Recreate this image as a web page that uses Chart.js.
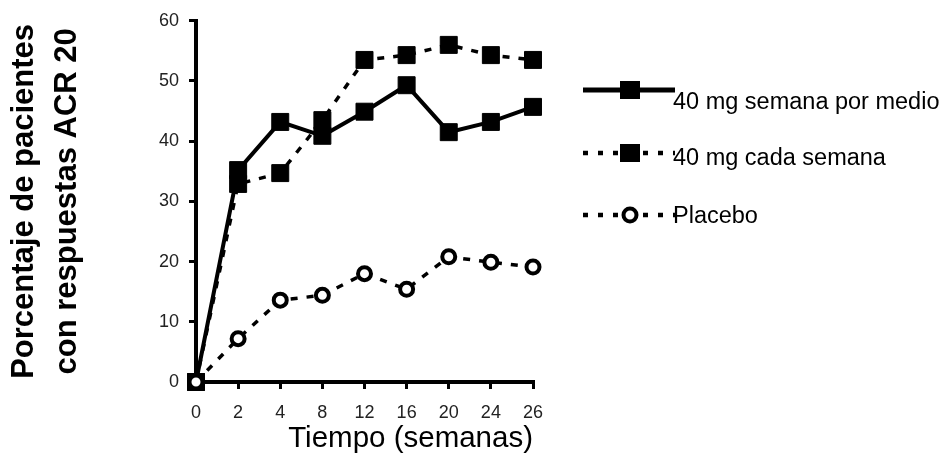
<!DOCTYPE html>
<html>
<head>
<meta charset="utf-8">
<script src="https://cdn.jsdelivr.net/npm/chart.js@4/dist/chart.umd.min.js"></script>
<style>
  html, body { margin: 0; padding: 0; background: #fff; }
  #wrap { width: 949px; height: 457px; position: relative; }
</style>
</head>
<body>
<div id="wrap"><canvas id="c"></canvas></div>
<script>
const weeks = ['0', '2', '4', '8', '12', '16', '20', '24', '26'];
const everyOtherWeek = [0, 35.2, 43.2, 40.9, 44.9, 49.3, 41.5, 43.2, 45.7];
const everyWeek = [0, 32.9, 34.7, 43.5, 53.5, 54.3, 56.0, 54.3, 53.5];
const placebo = [0, 7.2, 13.6, 14.4, 18.0, 15.4, 20.8, 19.9, 19.1];
const seriesNames = ['40 mg semana por medio', '40 mg cada semana', 'Placebo'];
const yTicks = [0, 10, 20, 30, 40, 50, 60];
const yTitle = ['Porcentaje de pacientes', 'con respuestas ACR 20'];
const xTitle = 'Tiempo (semanas)';

const FONT = '"Liberation Sans", Arial, Helvetica, sans-serif';

const legendPlugin = {
  id: 'sideLegend',
  afterDraw(chart) {
    const ctx = chart.ctx;
    const rows = [
      { lineY: 90, textY: 109 },
      { lineY: 153, textY: 165 },
      { lineY: 215, textY: 223 }
    ];
    const x0 = 583, x1 = 675, mx = 630;
    chart.data.datasets.forEach((ds, i) => {
      const r = rows[i];
      ctx.save();
      ctx.strokeStyle = '#000';
      ctx.lineWidth = i === 0 ? 5 : 4.5;
      ctx.setLineDash(i === 0 ? [] : [5, 10]);
      ctx.beginPath();
      ctx.moveTo(x0, r.lineY);
      ctx.lineTo(x1, r.lineY);
      ctx.stroke();
      ctx.setLineDash([]);
      if (ds.pointStyle === 'rect') {
        ctx.fillStyle = '#000';
        ctx.fillRect(mx - 10, r.lineY - 9, 20, 18);
      } else {
        ctx.beginPath();
        ctx.arc(mx, r.lineY, 6.5, 0, Math.PI * 2);
        ctx.fillStyle = '#fff';
        ctx.fill();
        ctx.lineWidth = 4;
        ctx.strokeStyle = '#000';
        ctx.stroke();
      }
      ctx.fillStyle = '#000';
      ctx.font = '23.5px ' + FONT;
      ctx.textAlign = 'left';
      ctx.textBaseline = 'alphabetic';
      ctx.fillText(ds.label, 673, r.textY);
      ctx.restore();
    });
  }
};

new Chart(document.getElementById('c'), {
  type: 'line',
  data: {
    labels: weeks,
    datasets: [
      {
        label: seriesNames[0],
        data: everyOtherWeek,
        borderColor: '#000',
        backgroundColor: '#000',
        borderWidth: 4,
        pointStyle: 'rect',
        pointRadius: 12,
        pointBorderWidth: 1,
        pointBackgroundColor: '#000',
        pointBorderColor: '#000',
        tension: 0,
        clip: false,
        order: 2
      },
      {
        label: seriesNames[1],
        data: everyWeek,
        borderColor: '#000',
        backgroundColor: '#000',
        borderWidth: 3.5,
        borderDash: [7, 9],
        pointStyle: 'rect',
        pointRadius: 12,
        pointBorderWidth: 1,
        pointBackgroundColor: '#000',
        pointBorderColor: '#000',
        tension: 0,
        clip: false,
        order: 1
      },
      {
        label: seriesNames[2],
        data: placebo,
        borderColor: '#000',
        backgroundColor: '#fff',
        borderWidth: 3.5,
        borderDash: [7, 9],
        pointStyle: 'circle',
        pointRadius: 6.5,
        pointBorderWidth: 4,
        pointBackgroundColor: '#fff',
        pointBorderColor: '#000',
        tension: 0,
        clip: false,
        order: 0
      }
    ]
  },
  options: {
    responsive: true,
    maintainAspectRatio: false,
    animation: false,
    layout: { padding: { top: 20, right: 416, left: 0, bottom: 0 } },
    plugins: {
      legend: { display: false },
      tooltip: { enabled: false }
    },
    scales: {
      x: {
        type: 'category',
        offset: false,
        grid: { display: true, drawOnChartArea: false, drawTicks: true, tickLength: 7, color: '#000', lineWidth: 3 },
        border: { display: true, color: '#000', width: 4 },
        ticks: { color: '#222', font: { family: FONT, size: 18 }, padding: 13, maxRotation: 0, autoSkip: false },
        title: { display: true, text: xTitle, align: 'end', color: '#000', font: { family: FONT, size: 29.5 }, padding: { top: 0, bottom: 0 } },
        afterFit(scale) { scale.height = 75; }
      },
      y: {
        min: 0,
        max: 60,
        afterBuildTicks(scale) { scale.ticks = yTicks.map(v => ({ value: v })); },
        grid: { display: true, drawOnChartArea: false, drawTicks: true, tickLength: 7, color: '#000', lineWidth: 3 },
        border: { display: true, color: '#000', width: 4 },
        ticks: { color: '#222', font: { family: FONT, size: 18 }, padding: 10 },
        title: { display: true, text: yTitle, color: '#000', font: { family: FONT, size: 31, weight: 'bold', lineHeight: 1.38 }, padding: { top: 3, bottom: 0 } },
        afterFit(scale) { scale.width = 196; }
      }
    }
  },
  plugins: [legendPlugin]
});
</script>
</body>
</html>
